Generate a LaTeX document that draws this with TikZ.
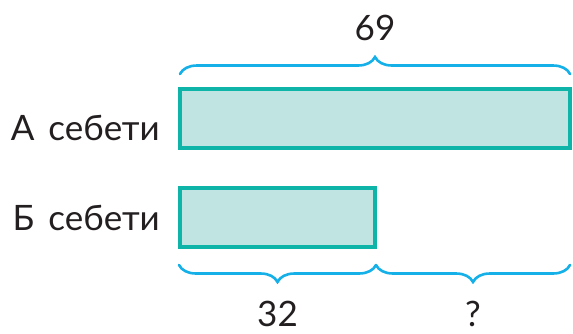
\documentclass[tikz,border=0pt]{standalone}
\usepackage{fontspec}
\setmainfont{Lato}
\usetikzlibrary{positioning,calc,decorations.pathreplacing}
\definecolor{barfill}{RGB}{192,228,226}
\definecolor{barline}{RGB}{14,180,168}
\definecolor{bracecol}{RGB}{22,176,232}
\definecolor{txt}{RGB}{35,31,32}
\tikzset{
  bar/.style={draw=barline, fill=barfill, line width=4pt, outer sep=0pt,
              inner sep=0pt, minimum height=59pt, anchor=north west},
  brc/.style={draw=bracecol, line width=2.6pt, line cap=round,
              decorate, decoration={brace, amplitude=17pt}},
  lbl/.style={text=txt, font=\fontsize{35}{38}\selectfont, inner sep=0pt},
}

\begin{document}
\begin{tikzpicture}[x=1pt, y=-1pt]
    \useasboundingbox (0,0) rectangle (573,333);
    \node[bar, minimum width=390pt] (barA) at (180,88.5) {};
    \node[bar, minimum width=195pt] (barB) at (180,188) {};
    \node[lbl, anchor=base east] (labA) at (160,140) {А\hspace{0.4em}себети};
    \node[lbl, anchor=base east] (labB) at (160,230) {Б\hspace{0.4em}себети};
    % braces
    \coordinate (bl) at ($(barB.south west)+(-1,18)$);
    \coordinate (bm) at ($(barB.south east)+(1,18)$);
    \coordinate (br) at (barA.east |- bm);
    \draw[brc] ($(barA.north west)+(0,-14.5)$) -- ($(barA.north east)+(0,-14.5)$)
      node[lbl, midway, above=32pt] (totl) {69};
    \draw[brc] (bm) -- (bl) node[lbl, midway, below=35pt] (partB) {32};
    \draw[brc] (br) -- (bm) node[lbl, midway, below=35pt] (diff) {?};
\end{tikzpicture}
\end{document}
